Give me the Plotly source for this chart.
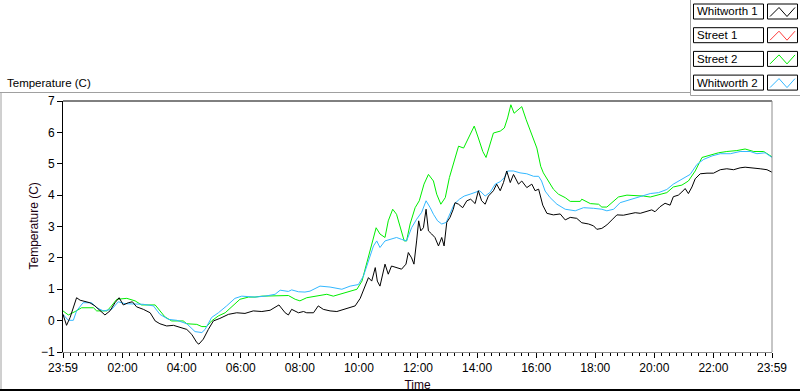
import pandas as pd
import plotly.graph_objects as go

# ---------------- data (hours after 23:59 start, temperature in C) ----------------
names = ["Whitworth 1", "Street 1", "Street 2", "Whitworth 2"]
colors = ["#000000", "#ff3c3c", "#00ee00", "#33b8ff"]

w1_hours = [0.0, 0.12, 0.24, 0.35, 0.46, 0.58, 0.74, 0.91, 1.08, 1.25, 1.42, 1.59, 1.76, 1.9,
            2.04, 2.21, 2.35, 2.49, 2.72, 2.95, 3.12, 3.28, 3.51, 3.74, 3.96, 4.19, 4.36, 4.53,
            4.6, 4.75, 4.92, 5.09, 5.31, 5.6, 5.88, 6.16, 6.44, 6.73, 7.01, 7.31, 7.52, 7.63,
            7.74, 7.97, 8.14, 8.25, 8.48, 8.64, 8.81, 9.04, 9.27, 9.49, 9.72, 9.89, 10.06, 10.23,
            10.34, 10.45, 10.57, 10.64, 10.73, 10.9, 11.01, 11.12, 11.29, 11.46, 11.61, 11.69,
            11.8, 11.88, 11.97, 12.04, 12.11, 12.2, 12.29, 12.37, 12.48, 12.59, 12.71, 12.82,
            12.9, 12.99, 13.1, 13.21, 13.27, 13.39, 13.53, 13.67, 13.8, 13.95, 14.06, 14.17,
            14.29, 14.4, 14.57, 14.68, 14.8, 14.91, 15.02, 15.14, 15.25, 15.42, 15.53, 15.7,
            15.87, 15.98, 16.1, 16.24, 16.38, 16.6, 16.83, 17.0, 17.17, 17.39, 17.56, 17.79,
            17.96, 18.07, 18.24, 18.41, 18.58, 18.75, 18.97, 19.2, 19.37, 19.54, 19.76, 19.93,
            20.04, 20.21, 20.38, 20.55, 20.66, 20.83, 20.95, 21.06, 21.17, 21.29, 21.4, 21.57,
            21.8, 22.02, 22.25, 22.47, 22.7, 22.92, 23.09, 23.38, 23.6, 23.83, 24.0]
w1_temp = [0.2, -0.15, 0.1, 0.41, 0.73, 0.65, 0.6, 0.57, 0.47, 0.31, 0.18, 0.31, 0.57, 0.73,
           0.5, 0.57, 0.6, 0.44, 0.36, 0.25, -0.01, -0.1, -0.17, -0.15, -0.22, -0.28, -0.44, -0.7,
           -0.75, -0.59, -0.28, -0.01, 0.07, 0.2, 0.25, 0.23, 0.31, 0.29, 0.33, 0.5, 0.25, 0.18,
           0.36, 0.25, 0.29, 0.25, 0.25, 0.47, 0.36, 0.31, 0.29, 0.36, 0.41, 0.47, 0.71, 1.1,
           1.37, 1.26, 1.69, 1.26, 1.1, 1.8, 1.48, 1.74, 1.69, 1.64, 1.8, 2.17,
           2.0, 1.8, 2.54, 3.18, 2.86, 2.96, 3.55, 2.86, 2.76, 2.65, 2.38, 2.65,
           2.38, 3.13, 3.29, 3.55, 3.76, 3.71, 3.6, 3.82, 3.87, 3.73, 4.14, 3.82,
           3.71, 3.97, 4.14, 4.35, 4.14, 4.4, 4.77, 4.4, 4.66, 4.35, 4.45, 4.24,
           4.35, 4.14, 4.19, 3.68, 3.42, 3.37, 3.4, 3.21, 3.29, 3.26, 3.12, 3.08,
           3.02, 2.91, 2.94, 3.05, 3.21, 3.37, 3.36, 3.4, 3.44, 3.42, 3.47, 3.53,
           3.47, 3.63, 3.74, 3.68, 3.95, 4.0, 4.1, 4.21, 4.05, 4.26, 4.52, 4.68,
           4.7, 4.7, 4.81, 4.84, 4.81, 4.87, 4.89, 4.87, 4.84, 4.81, 4.73]

s1_hours = []
s1_temp = []

s2_hours = [0.0, 0.18, 0.41, 0.63, 1.03, 1.14, 1.48, 1.59, 1.82, 2.16, 2.44, 2.66, 3.12, 3.45,
            3.68, 4.07, 4.19, 4.53, 4.7, 4.86, 5.03, 5.26, 5.49, 5.71, 5.99, 6.28, 6.5, 6.73,
            7.18, 7.63, 7.86, 8.02, 8.25, 8.59, 8.93, 9.15, 9.44, 9.72, 9.95, 10.12, 10.28,
            10.45, 10.6, 10.73, 10.9, 11.01, 11.16, 11.29, 11.41, 11.55, 11.63, 11.75, 11.92,
            12.06, 12.22, 12.37, 12.54, 12.65, 12.79, 12.94, 13.08, 13.24, 13.39, 13.56, 13.67,
            13.78, 13.92, 14.06, 14.21, 14.32, 14.46, 14.57, 14.8, 14.94, 15.05, 15.16, 15.27,
            15.39, 15.53, 15.68, 15.87, 16.04, 16.17, 16.26, 16.43, 16.6, 16.77, 17.0, 17.17,
            17.51, 17.56, 17.85, 18.13, 18.24, 18.41, 18.58, 18.8, 19.09, 19.43, 19.65, 19.88,
            20.16, 20.44, 20.66, 20.95, 21.17, 21.4, 21.63, 21.91, 22.19, 22.47, 22.81, 23.09,
            23.38, 23.72, 24.0]
s2_temp = [0.31, 0.18, 0.29, 0.41, 0.41, 0.31, 0.31, 0.41, 0.68, 0.71, 0.63, 0.5, 0.5, 0.12,
           -0.01, -0.01, -0.1, -0.12, -0.19, -0.19, -0.01, 0.15, 0.25, 0.44, 0.68, 0.75, 0.75, 0.78,
           0.8, 0.8, 0.68, 0.63, 0.73, 0.78, 0.84, 0.78, 0.86, 0.94, 1.0, 1.26, 1.8,
           2.44, 2.96, 2.76, 2.65, 3.18, 3.55, 3.39, 2.96, 2.54, 2.54, 3.08, 3.6,
           3.82, 4.35, 4.66, 4.45, 4.03, 3.71, 3.92, 4.56, 5.08, 5.56, 5.5, 5.72,
           5.93, 6.2, 5.82, 5.39, 5.2, 5.61, 5.98, 6.04, 6.14, 6.46, 6.88, 6.61,
           6.72, 6.82, 6.4, 5.93, 5.5, 4.92, 4.71, 4.45, 4.19, 4.03, 3.92, 3.8,
           3.8, 3.87, 3.73, 3.71, 3.62, 3.62, 3.76, 3.94, 4.0, 3.99, 3.97, 3.94,
           4.0, 4.08, 4.26, 4.32, 4.45, 4.77, 5.2, 5.27, 5.35, 5.39, 5.42, 5.47,
           5.39, 5.39, 5.22]

w2_hours = [0.0, 0.18, 0.35, 0.46, 0.68, 0.97, 1.14, 1.37, 1.65, 1.87, 2.1, 2.44, 2.72, 3.06,
            3.28, 3.57, 3.85, 4.19, 4.47, 4.7, 4.81, 5.03, 5.26, 5.54, 5.82, 6.05, 6.5, 6.84,
            7.18, 7.35, 7.63, 7.74, 7.97, 8.19, 8.36, 8.7, 9.04, 9.44, 9.72, 10.0, 10.17, 10.34,
            10.51, 10.62, 10.73, 10.9, 11.12, 11.29, 11.46, 11.63, 11.8, 11.97, 12.14, 12.29,
            12.43, 12.54, 12.68, 12.82, 12.97, 13.1, 13.24, 13.42, 13.58, 13.78, 13.98, 14.11,
            14.29, 14.46, 14.63, 14.8, 14.94, 15.05, 15.25, 15.47, 15.7, 15.93, 16.1, 16.2,
            16.32, 16.49, 16.72, 17.0, 17.34, 17.62, 17.96, 18.24, 18.41, 18.64, 18.86, 19.14,
            19.48, 19.88, 20.16, 20.44, 20.66, 20.95, 21.23, 21.46, 21.69, 21.97, 22.25, 22.59,
            22.92, 23.26, 23.49, 23.77, 24.0]
w2_temp = [0.2, 0.01, 0.01, 0.31, 0.57, 0.57, 0.41, 0.31, 0.36, 0.6, 0.54, 0.52, 0.52, 0.47,
           0.2, 0.04, 0.01, -0.1, -0.35, -0.38, -0.28, 0.1, 0.25, 0.47, 0.71, 0.78, 0.75, 0.78,
           0.84, 0.97, 0.93, 0.98, 0.92, 0.91, 0.94, 1.1, 1.07, 1.0, 1.1, 1.15, 1.42, 1.9,
           2.38, 2.54, 2.33, 2.54, 2.59, 2.65, 2.59, 2.54, 2.96, 3.23, 3.45, 3.82,
           3.6, 3.39, 3.18, 3.08, 3.13, 3.39, 3.71, 3.87, 3.97, 4.03, 4.09, 4.14,
           3.97, 4.09, 4.35, 4.43, 4.56, 4.77, 4.77, 4.71, 4.68, 4.6, 4.6, 4.45,
           4.13, 3.92, 3.71, 3.55, 3.5, 3.6, 3.58, 3.55, 3.5, 3.55, 3.76, 3.84,
           3.92, 4.05, 4.08, 4.18, 4.35, 4.5, 4.66, 4.98, 5.14, 5.25, 5.32, 5.32,
           5.39, 5.39, 5.32, 5.35, 5.2]

x_tick_labels = ["23:59", "02:00", "04:00", "06:00", "08:00", "10:00", "12:00",
                 "14:00", "16:00", "18:00", "20:00", "22:00", "23:59"]
y_tick_values = [-1, 0, 1, 2, 3, 4, 5, 6, 7]

# ---------------- build ----------------
START = pd.Timestamp("2024-01-01 23:59")


def to_time(hours):
    return [START + pd.Timedelta(hours=h) for h in hours]


tickvals = []
for i, lab in enumerate(x_tick_labels):
    if i == 0:
        tickvals.append(START)
    elif i == len(x_tick_labels) - 1:
        tickvals.append(START + pd.Timedelta(hours=24))
    else:
        tickvals.append(pd.Timestamp("2024-01-02 " + lab))

series = [(w1_hours, w1_temp), (s1_hours, s1_temp), (s2_hours, s2_temp), (w2_hours, w2_temp)]
draw_order = [1, 2, 3, 0]  # black drawn on top

FONT = "Liberation Sans"
TITLE_COLOR = "#1a0010"
W, H = 800, 392
L, R, T, B = 63, 28, 101, 40
PW, PH = W - L - R, H - T - B


def px(x):
    return (x - L) / PW


def py(y):
    return 1 - (y - T) / PH


fig = go.Figure()
for k in draw_order:
    hrs, tmp = series[k]
    fig.add_trace(go.Scatter(x=to_time(hrs), y=tmp, mode="lines", name=names[k],
                             line=dict(color=colors[k], width=1), showlegend=False))

fig.update_layout(
    width=W, height=H, margin=dict(l=L, r=R, t=T, b=B, autoexpand=False),
    paper_bgcolor="white", plot_bgcolor="white",
    font=dict(family=FONT, size=12, color="#000000"),
    xaxis=dict(
        range=[START, START + pd.Timedelta(hours=24)],
        tickmode="array", tickvals=tickvals, ticktext=x_tick_labels,
        ticks="outside", ticklen=5, tickcolor="#000000", tickwidth=1,
        showline=True, linecolor="#8c8c8c", linewidth=1,
        showgrid=False, zeroline=False, automargin=False,
        minor=dict(tickmode="linear", dtick=15 * 60 * 1000, tick0="2024-01-02 00:00",
                   ticks="outside", ticklen=3, tickcolor="#000000", showgrid=False),
        title=dict(text="Time", font=dict(size=12, color=TITLE_COLOR)),
        tickfont=dict(size=12, color="#000000"),
    ),
    yaxis=dict(
        range=[-1, 7], tickmode="array", tickvals=y_tick_values,
        ticks="outside", ticklen=5, tickcolor="#000000",
        showline=True, linecolor="#000000", linewidth=1,
        showgrid=False, zeroline=False, automargin=False,
        tickfont=dict(size=12, color="#000000"),
    ),
)

shapes = []


def line(x0, y0, x1, y1, color, width=1):
    shapes.append(dict(type="line", xref="paper", yref="paper",
                       x0=px(x0), y0=py(y0), x1=px(x1), y1=py(y1),
                       line=dict(color=color, width=width)))


# plot frame (top black, right gray)
line(L, T, W - R, T, "#000000")
line(W - R, T, W - R, H - B, "#8c8c8c")
# outer panel frame
line(0, 92.5, 690, 92.5, "#a0a0a0")
line(1, 92.5, 1, 390, "#a0a0a0")
line(0, 390, W, 390, "#000000", 2)
line(690.5, 0, 690.5, 95.5, "#a0a0a0")
line(690.5, 95.5, W, 95.5, "#a0a0a0")

annotations = [
    dict(text="Temperature (C)", xref="paper", yref="paper", x=px(5), y=py(82.5),
         xanchor="left", yanchor="middle", showarrow=False,
         font=dict(family=FONT, size=11.5, color="#000000")),
    dict(text="Temperature (C)", xref="paper", yref="paper", x=px(33), y=py(226.5),
         xanchor="center", yanchor="middle", showarrow=False, textangle=-90,
         font=dict(family=FONT, size=12, color=TITLE_COLOR)),
]

# custom legend boxes
for i, (nm, col) in enumerate(zip(names, colors)):
    top = 4 + 23.7 * i
    bot = top + 15
    shapes.append(dict(type="rect", xref="paper", yref="paper",
                       x0=px(693.5), x1=px(763.5), y0=py(bot), y1=py(top),
                       line=dict(color="#000000", width=1), fillcolor="white"))
    shapes.append(dict(type="rect", xref="paper", yref="paper",
                       x0=px(767.5), x1=px(797.5), y0=py(bot), y1=py(top),
                       line=dict(color="#000000", width=1), fillcolor="white"))
    pts = [(770, top + 12.5), (779, top + 3.5), (787, top + 12.5), (795, top + 3.5)]
    path = "M " + " L ".join(f"{px(a)},{py(b)}" for a, b in pts)
    shapes.append(dict(type="path", xref="paper", yref="paper", path=path,
                       line=dict(color=col, width=1)))
    annotations.append(dict(text=nm, xref="paper", yref="paper", x=px(695), y=py(top + 7.5),
                            xanchor="left", yanchor="middle", showarrow=False,
                            font=dict(family=FONT, size=11.5, color="#000000")))

fig.update_layout(shapes=shapes, annotations=annotations)
fig.write_html("out.html", config={"displayModeBar": False},
               post_script="document.body.style.margin='0';document.body.style.overflow='hidden';")
